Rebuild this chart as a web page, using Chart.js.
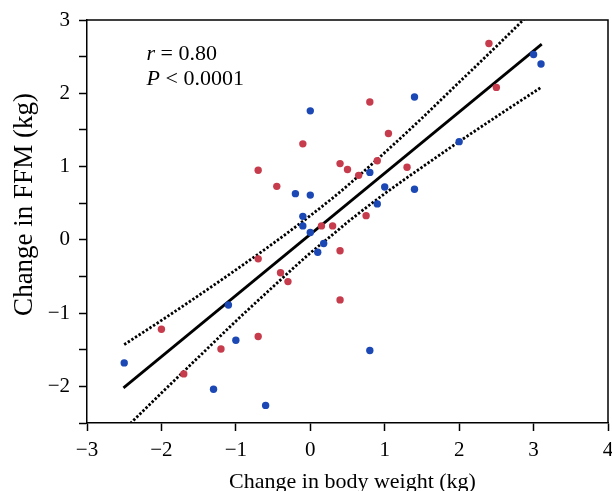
<!DOCTYPE html>
<html>
<head>
<meta charset="utf-8">
<script src="https://cdn.jsdelivr.net/npm/chart.js@4"></script>
<style>
  html, body { margin: 0; padding: 0; background: #fff; }
  #wrap { width: 612px; height: 491px; }
</style>
</head>
<body>
<div id="wrap"><canvas id="c" width="612" height="491"></canvas></div>
<script>
// ---- data ----
const blueX = [0.0, -0.2, 0.0, -0.1, 3.0, 3.1, 1.4, 2.0, 0.8, 1.0, 1.4, 0.9, -0.1, 0.0, 0.1, 0.18, -1.1, -1.0, -2.5, -1.3, -0.6, 0.8];
const blueY = [1.76, 0.63, 0.61, 0.32, 2.53, 2.40, 1.95, 1.34, 0.92, 0.72, 0.69, 0.49, 0.19, 0.10, -0.17, -0.05, -0.89, -1.37, -1.68, -2.04, -2.26, -1.51];

const redX = [-0.1, -0.7, -0.45, 0.4, 0.5, 2.4, 2.5, 0.8, 1.05, 0.65, 0.9, 1.3, 0.75, 0.15, 0.3, 0.4, 0.4, -0.7, -0.4, -0.3, -2.0, -0.7, -1.2, -1.7];
const redY = [1.31, 0.95, 0.73, 1.04, 0.96, 2.68, 2.08, 1.88, 1.45, 0.88, 1.08, 0.99, 0.33, 0.19, 0.19, -0.15, -0.82, -0.26, -0.45, -0.57, -1.22, -1.32, -1.49, -1.83];

const fitX = [-2.51, 3.11];
const fitY = [-2.02, 2.67];

const bandX     = [-2.5, -2.0, -1.5, -1.0, -0.5, 0.0, 0.3, 0.5, 1.0, 1.5, 2.0, 2.5, 3.1];
const bandUpper = [-1.43, -1.10, -0.76, -0.41, -0.05, 0.33, 0.57, 0.74, 1.19, 1.66, 2.15, 2.64, 3.24];
const bandLower = [-2.59, -2.09, -1.60, -1.11, -0.64, -0.18, 0.07, 0.24, 0.63, 0.99, 1.34, 1.68, 2.08];

const xTicks = [-3, -2, -1, 0, 1, 2, 3, 4];
const yTicks = [-2, -1, 0, 1, 2, 3];

const statLines = [["r", " = 0.80"], ["P", " < 0.0001"]];
const xTitle = "Change in body weight (kg)";
const yTitle = "Change in FFM (kg)";

// ---- helpers ----
const pts = (xs, ys) => xs.map((x, i) => ({ x: x, y: ys[i] }));
const fmt = v => (v < 0 ? "\u2212" + Math.abs(v) : String(v));
const FONT = "'Liberation Serif', 'Times New Roman', serif";

const framePlugin = {
  id: 'frame',
  afterDraw(chart) {
    const { ctx, chartArea: a } = chart;
    ctx.save();
    ctx.strokeStyle = '#000';
    ctx.lineWidth = 1.5;
    ctx.beginPath();
    ctx.moveTo(a.left, a.top);
    ctx.lineTo(a.right, a.top);
    ctx.lineTo(a.right, a.bottom);
    ctx.stroke();

    // stats text
    const xs = chart.scales.x, ys = chart.scales.y;
    const tx = xs.getPixelForValue(-2.2);
    const base = [ys.getPixelForValue(2.45), ys.getPixelForValue(2.11)];
    ctx.fillStyle = '#000';
    ctx.textBaseline = 'alphabetic';
    ctx.textAlign = 'left';
    statLines.forEach((ln, i) => {
      ctx.font = "italic 22px " + FONT;
      ctx.fillText(ln[0], tx, base[i]);
      const w = ctx.measureText(ln[0]).width;
      ctx.font = "22px " + FONT;
      ctx.fillText(ln[1], tx + w, base[i]);
    });

    // axis titles
    ctx.font = "22px " + FONT;
    ctx.textAlign = 'center';
    ctx.fillText(xTitle, (a.left + a.right) / 2 + 5, chart.height - 3);
    ctx.save();
    ctx.translate(32, (a.top + a.bottom) / 2 - 17);
    ctx.rotate(-Math.PI / 2);
    ctx.font = "27px " + FONT;
    ctx.fillText(yTitle, 0, 0);
    ctx.restore();
    ctx.restore();
  }
};

new Chart(document.getElementById('c'), {
  type: 'scatter',
  data: {
    datasets: [
      { label: 'blue', data: pts(blueX, blueY), backgroundColor: '#1b48b5', pointRadius: 3.7, pointBorderWidth: 0, order: 0 },
      { label: 'red', data: pts(redX, redY), backgroundColor: '#c73c4c', pointRadius: 3.7, pointBorderWidth: 0, order: 1 },
      { label: 'fit', type: 'line', data: pts(fitX, fitY), borderColor: '#000', borderWidth: 2.8, pointRadius: 0, fill: false, order: 2 },
      { label: 'upper', type: 'line', data: pts(bandX, bandUpper), borderColor: '#000', borderWidth: 2.8, borderDash: [2.4, 1.9], pointRadius: 0, fill: false, cubicInterpolationMode: 'monotone', order: 3 },
      { label: 'lower', type: 'line', data: pts(bandX, bandLower), borderColor: '#000', borderWidth: 2.8, borderDash: [2.4, 1.9], pointRadius: 0, fill: false, cubicInterpolationMode: 'monotone', order: 4 }
    ]
  },
  options: {
    responsive: false,
    animation: false,
    events: [],
    layout: { padding: { top: 20, right: 3, left: 0, bottom: 0 } },
    plugins: { legend: { display: false }, tooltip: { enabled: false } },
    scales: {
      x: {
        type: 'linear', min: xTicks[0], max: xTicks[xTicks.length - 1],
        afterBuildTicks: s => { s.ticks = xTicks.map(v => ({ value: v })); },
        afterFit: s => { s.height = 68; s.paddingRight = 0; s.paddingLeft = 0; },
        border: { color: '#000', width: 1.5 },
        grid: { drawOnChartArea: false, drawTicks: true, tickLength: 8, color: '#000', tickWidth: 1.5 },
        ticks: { color: '#000', font: { family: FONT, size: 21 }, padding: 7, callback: v => fmt(v), maxRotation: 0 }
      },
      y: {
        type: 'linear', min: -2.5, max: 3,
        afterBuildTicks: s => { const t = []; for (let v = -2.5; v <= 3.0001; v += 0.5) t.push({ value: Math.round(v * 10) / 10 }); s.ticks = t; },
        afterFit: s => { s.width = 87; s.paddingTop = 0; s.paddingBottom = 0; },
        border: { color: '#000', width: 1.5 },
        grid: { drawOnChartArea: false, drawTicks: true, tickLength: 8, color: '#000', tickWidth: 1.5 },
        ticks: { color: '#000', font: { family: FONT, size: 21 }, padding: 9, callback: v => (yTicks.includes(v) ? fmt(v) : '') }
      }
    }
  },
  plugins: [framePlugin]
});
</script>
</body>
</html>
